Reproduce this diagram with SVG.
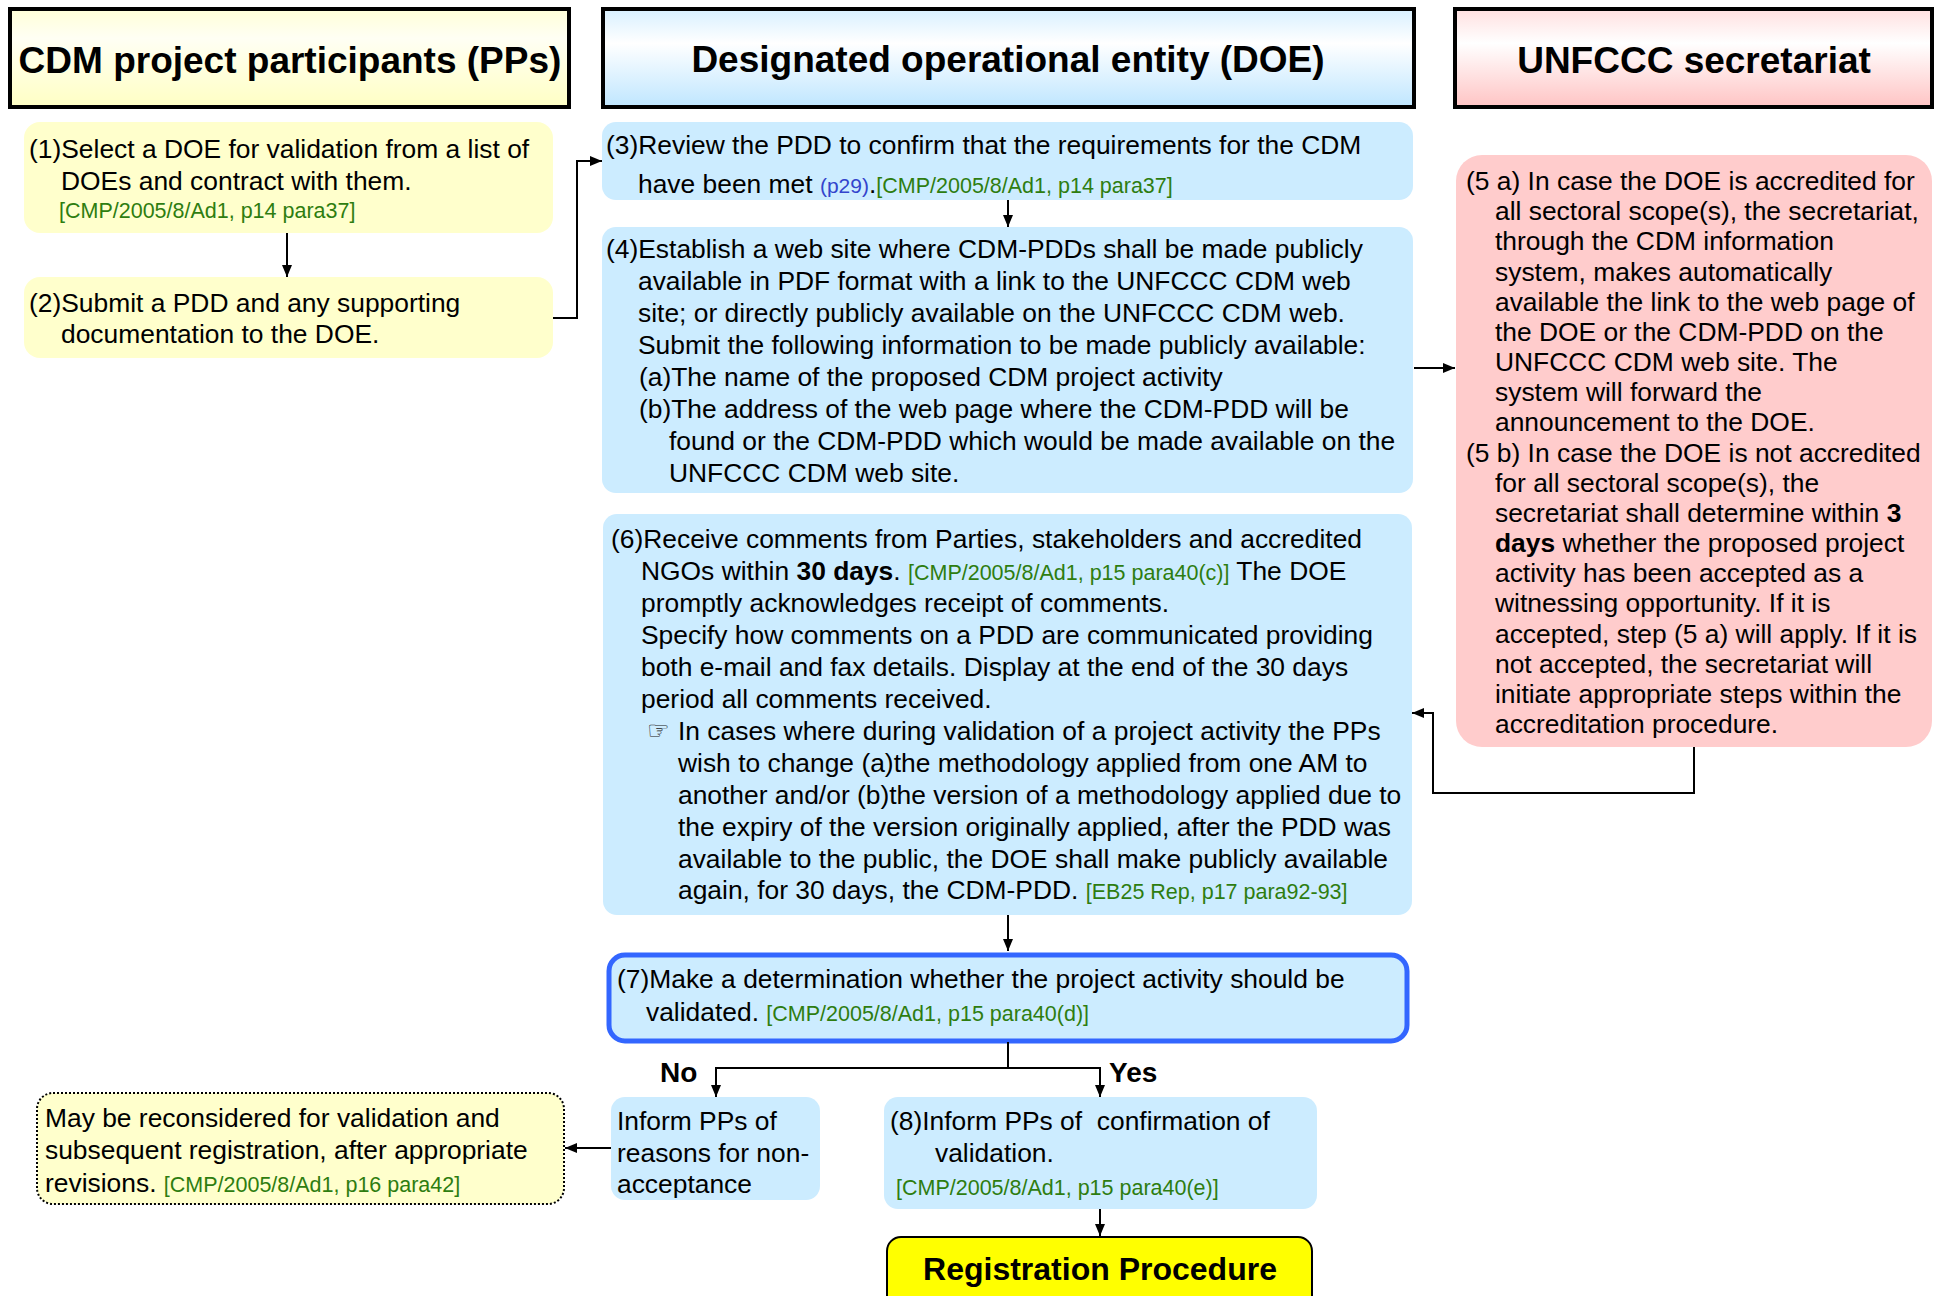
<svg xmlns="http://www.w3.org/2000/svg" width="1937" height="1296" viewBox="0 0 1937 1296">
<defs>
<style>
text{font-family:"Liberation Sans",Arial,sans-serif;font-size:26.4px;fill:#000}
.hdr{font-weight:bold;font-size:37px;text-anchor:middle}
.ref{fill:#2E7D10;font-size:21.5px}
.blu{fill:#3344CC;font-size:21px}
.b{font-weight:bold}
.hbox{stroke:#000;stroke-width:4}
.blue{fill:#CCECFF}
.yel{fill:#FFFFCC}
.pink{fill:#FFCCCC}
.conn{fill:none;stroke:#000;stroke-width:2}
</style>
<linearGradient id="gY" x1="0" y1="0" x2="0" y2="1">
<stop offset="0" stop-color="#FFFFD8"/><stop offset="0.3" stop-color="#FFFFF4"/><stop offset="1" stop-color="#FFFFC4"/>
</linearGradient>
<linearGradient id="gB" x1="0" y1="0" x2="0" y2="1">
<stop offset="0" stop-color="#D8F0FF"/><stop offset="0.35" stop-color="#FFFFFF"/><stop offset="1" stop-color="#BFE6FF"/>
</linearGradient>
<linearGradient id="gP" x1="0" y1="0" x2="0" y2="1">
<stop offset="0" stop-color="#FFE0E0"/><stop offset="0.35" stop-color="#FFFFFF"/><stop offset="1" stop-color="#FFC4C4"/>
</linearGradient>
<marker id="ah" viewBox="0 0 12 10" refX="12" refY="5" markerWidth="12" markerHeight="10" markerUnits="userSpaceOnUse" orient="auto">
<path d="M0,0 L12,5 L0,10 Z" fill="#000"/>
</marker>
</defs>
<rect width="1937" height="1296" fill="#fff"/>

<g id="hdr-pps">
<rect class="hbox" x="10" y="9" width="559" height="98" fill="url(#gY)"/>
<text class="hdr" x="290" y="73">CDM project participants (PPs)</text>
</g>
<g id="hdr-doe">
<rect class="hbox" x="603" y="9" width="811" height="98" fill="url(#gB)"/>
<text class="hdr" x="1008" y="72">Designated operational entity (DOE)</text>
</g>
<g id="hdr-unfccc">
<rect class="hbox" x="1455" y="9" width="477" height="98" fill="url(#gP)"/>
<text class="hdr" x="1694" y="73">UNFCCC secretariat</text>
</g>

<g id="n1">
<rect class="yel" x="24" y="122" width="529" height="111" rx="16"/>
<text x="29" y="158">(1)Select a DOE for validation from a list of</text>
<text x="61" y="190">DOEs and contract with them.</text>
<text class="ref" x="59" y="218">[CMP/2005/8/Ad1, p14 para37]</text>
</g>
<g id="n2">
<rect class="yel" x="24" y="277" width="529" height="81" rx="16"/>
<text x="29" y="312">(2)Submit a PDD and any supporting</text>
<text x="61" y="343">documentation to the DOE.</text>
</g>

<g id="n3">
<rect class="blue" x="602" y="122" width="811" height="78" rx="14"/>
<text x="606" y="154">(3)Review the PDD to confirm that the requirements for the CDM</text>
<text x="638" y="193">have been met <tspan class="blu">(p29)</tspan>.<tspan class="ref">[CMP/2005/8/Ad1, p14 para37]</tspan></text>
</g>
<g id="n4">
<rect class="blue" x="602" y="227" width="811" height="266" rx="14"/>
<text x="606" y="258">(4)Establish a web site where CDM-PDDs shall be made publicly</text>
<text x="638" y="290">available in PDF format with a link to the UNFCCC CDM web</text>
<text x="638" y="322">site; or directly publicly available on the UNFCCC CDM web.</text>
<text x="638" y="354">Submit the following information to be made publicly available:</text>
<text x="639" y="386">(a)The name of the proposed CDM project activity</text>
<text x="639" y="418">(b)The address of the web page where the CDM-PDD will be</text>
<text x="669" y="450">found or the CDM-PDD which would be made available on the</text>
<text x="669" y="482">UNFCCC CDM web site.</text>
</g>

<g id="n5">
<rect class="pink" x="1456" y="155" width="476" height="592" rx="26"/>
<text x="1466" y="190">(5 a) In case the DOE is accredited for</text>
<text x="1495" y="220">all sectoral scope(s), the secretariat,</text>
<text x="1495" y="250">through the CDM information</text>
<text x="1495" y="281">system, makes automatically</text>
<text x="1495" y="311">available the link to the web page of</text>
<text x="1495" y="341">the DOE or the CDM-PDD on the</text>
<text x="1495" y="371">UNFCCC CDM web site. The</text>
<text x="1495" y="401">system will forward the</text>
<text x="1495" y="431">announcement to the DOE.</text>
<text x="1466" y="462">(5 b) In case the DOE is not accredited</text>
<text x="1495" y="492">for all sectoral scope(s), the</text>
<text x="1495" y="522">secretariat shall determine within <tspan class="b">3</tspan></text>
<text x="1495" y="552"><tspan class="b">days</tspan> whether the proposed project</text>
<text x="1495" y="582">activity has been accepted as a</text>
<text x="1495" y="612">witnessing opportunity. If it is</text>
<text x="1495" y="643">accepted, step (5 a) will apply. If it is</text>
<text x="1495" y="673">not accepted, the secretariat will</text>
<text x="1495" y="703">initiate appropriate steps within the</text>
<text x="1495" y="733">accreditation procedure.</text>
</g>

<g id="n6">
<rect class="blue" x="603" y="514" width="809" height="401" rx="14"/>
<text x="611" y="548">(6)Receive comments from Parties, stakeholders and accredited</text>
<text x="641" y="580">NGOs within <tspan class="b">30 days</tspan>. <tspan class="ref">[CMP/2005/8/Ad1, p15 para40(c)]</tspan> The DOE</text>
<text x="641" y="612">promptly acknowledges receipt of comments.</text>
<text x="641" y="644">Specify how comments on a PDD are communicated providing</text>
<text x="641" y="676">both e-mail and fax details. Display at the end of the 30 days</text>
<text x="641" y="708">period all comments received.</text>
<text x="647" y="739" style="font-family:'DejaVu Sans',sans-serif;font-size:25px;fill:#222">☞</text>
<text x="678" y="740">In cases where during validation of a project activity the PPs</text>
<text x="678" y="772">wish to change (a)the methodology applied from one AM to</text>
<text x="678" y="804">another and/or (b)the version of a methodology applied due to</text>
<text x="678" y="836">the expiry of the version originally applied, after the PDD was</text>
<text x="678" y="868">available to the public, the DOE shall make publicly available</text>
<text x="678" y="899">again, for 30 days, the CDM-PDD. <tspan class="ref">[EB25 Rep, p17 para92-93]</tspan></text>
</g>

<g id="n7">
<rect class="blue" x="609" y="955" width="798" height="86" rx="16" stroke="#3366FF" stroke-width="5"/>
<text x="617" y="988">(7)Make a determination whether the project activity should be</text>
<text x="646" y="1021">validated. <tspan class="ref">[CMP/2005/8/Ad1, p15 para40(d)]</tspan></text>
</g>

<g id="n-no">
<rect class="blue" x="611" y="1097" width="209" height="103" rx="14"/>
<text x="617" y="1130">Inform PPs of</text>
<text x="617" y="1162">reasons for non-</text>
<text x="617" y="1193">acceptance</text>
</g>
<g id="n8">
<rect class="blue" x="884" y="1097" width="433" height="112" rx="14"/>
<text x="890" y="1130" style="white-space:pre">(8)Inform PPs of  confirmation of</text>
<text x="935" y="1162">validation.</text>
<text class="ref" x="896" y="1195">[CMP/2005/8/Ad1, p15 para40(e)]</text>
</g>
<g id="n-reconsider">
<rect class="yel" x="37" y="1093" width="527" height="111" rx="16" stroke="#000" stroke-width="2" stroke-dasharray="2 2"/>
<text x="45" y="1127">May be reconsidered for validation and</text>
<text x="45" y="1159">subsequent registration, after appropriate</text>
<text x="45" y="1192">revisions. <tspan class="ref">[CMP/2005/8/Ad1, p16 para42]</tspan></text>
</g>
<g id="n-registration">
<rect x="887" y="1237" width="425" height="80" rx="14" fill="#FFFF00" stroke="#000" stroke-width="2"/>
<text class="b" x="1100" y="1280" text-anchor="middle" style="font-size:32px">Registration Procedure</text>
</g>

<g id="labels">
<text class="b" x="660" y="1082" style="font-size:28px">No</text>
<text class="b" x="1109" y="1082" style="font-size:28px">Yes</text>
</g>

<g id="connectors">
<path class="conn" d="M287,233 V277" marker-end="url(#ah)"/>
<path class="conn" d="M553,318 H577 V161 H602" marker-end="url(#ah)"/>
<path class="conn" d="M1008,200 V227" marker-end="url(#ah)"/>
<path class="conn" d="M1414,368 H1455" marker-end="url(#ah)"/>
<path class="conn" d="M1694,747 V793 H1433 V713 H1412" marker-end="url(#ah)"/>
<path class="conn" d="M1008,915 V951" marker-end="url(#ah)"/>
<path class="conn" d="M1008,1042 V1068"/>
<path class="conn" d="M1008,1068 H716 V1097" marker-end="url(#ah)"/>
<path class="conn" d="M1008,1068 H1100 V1097" marker-end="url(#ah)"/>
<path class="conn" d="M611,1148 H565" marker-end="url(#ah)"/>
<path class="conn" d="M1100,1209 V1236" marker-end="url(#ah)"/>
</g>
</svg>
